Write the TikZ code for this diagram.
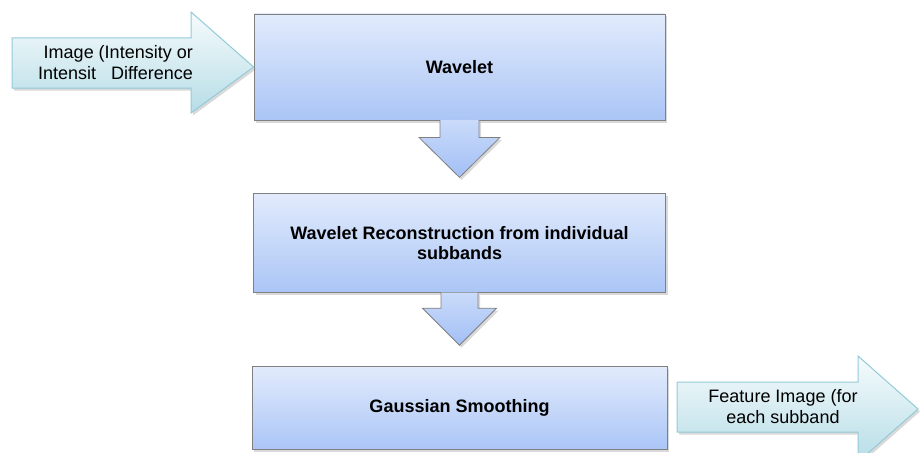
\documentclass[tikz,border=0pt]{standalone}
\usepackage{fontspec}
\setmainfont{Liberation Sans}
\usetikzlibrary{positioning,shadows}
\definecolor{boxtop}{HTML}{E2EBFC}
\definecolor{boxbot}{HTML}{AAC5F6}
\definecolor{boxline}{HTML}{808080}
\definecolor{sidetop}{HTML}{F6FBFC}
\definecolor{sidebot}{HTML}{B6DDE7}
\definecolor{sideline}{HTML}{93CAD8}
\definecolor{flowtop}{HTML}{CADBFA}
\definecolor{flowbot}{HTML}{A2BFF5}
\begin{document}
\begin{tikzpicture}[x=1pt,y=-1pt,
  softshadow/.style={drop shadow={opacity=0.3,shadow xshift=2pt,shadow yshift=-2.5pt}},
  stagebox/.style={draw=boxline, line width=0.8pt, top color=boxtop, bottom color=boxbot,
    align=center, font=\fontsize{18}{19.5}\selectfont\bfseries, softshadow},
  sidearrow/.style={draw=sideline, line width=1pt, top color=sidetop, bottom color=sidebot, softshadow},
  flowarrow/.style={draw=boxline, line width=0.8pt, top color=flowtop, bottom color=flowbot, softshadow},
  sidetext/.style={font=\fontsize{18}{21}\selectfont, inner sep=0pt}]
\useasboundingbox (0,0) rectangle (920,452);
\clip (0,0) rectangle (920,452);

% process stages
\node[stagebox, minimum width=411pt, minimum height=106pt] (wav) at (459.5,67) {Wavelet};
\node[stagebox, minimum width=412pt, minimum height=99pt, below=73pt of wav] (recon)
  {Wavelet Reconstruction from individual\\subbands};
\node[stagebox, minimum width=415pt, minimum height=83pt, below=73pt of recon] (gauss)
  {Gaussian Smoothing};

% block arrows between stages
\draw[flowarrow] ([xshift=-19.5pt,yshift=0.5pt]wav.south) -- ++(0,17.5) -- ++(-21,0)
  -- ++(40.5,40) -- ++(40.5,-40) -- ++(-21,0) -- ++(0,-17.5);
\draw[flowarrow] ([xshift=-18.5pt,yshift=0.5pt]recon.south) -- ++(0,15.5) -- ++(-18.5,0)
  -- ++(37,37) -- ++(37,-37) -- ++(-18.5,0) -- ++(0,-15.5);

% input arrow
\draw[sidearrow] (12,38) -- (191,38) -- (191,12) -- (wav.west) -- (191,113) -- (191,88)
  -- (12,88) -- cycle;
\node[sidetext, anchor=east, align=right] (input) at (193,63)
  {Image (Intensity or\\Intensit\ \ \ Difference};

% output arrow
\draw[sidearrow] (677,382) -- (858,382) -- (858,356) -- (918,409) -- (858,462) -- (858,432)
  -- (677,432) -- cycle;
\node[sidetext, align=center] (output) at (783,407) {Feature Image (for\\each subband};
\end{tikzpicture}
\end{document}
